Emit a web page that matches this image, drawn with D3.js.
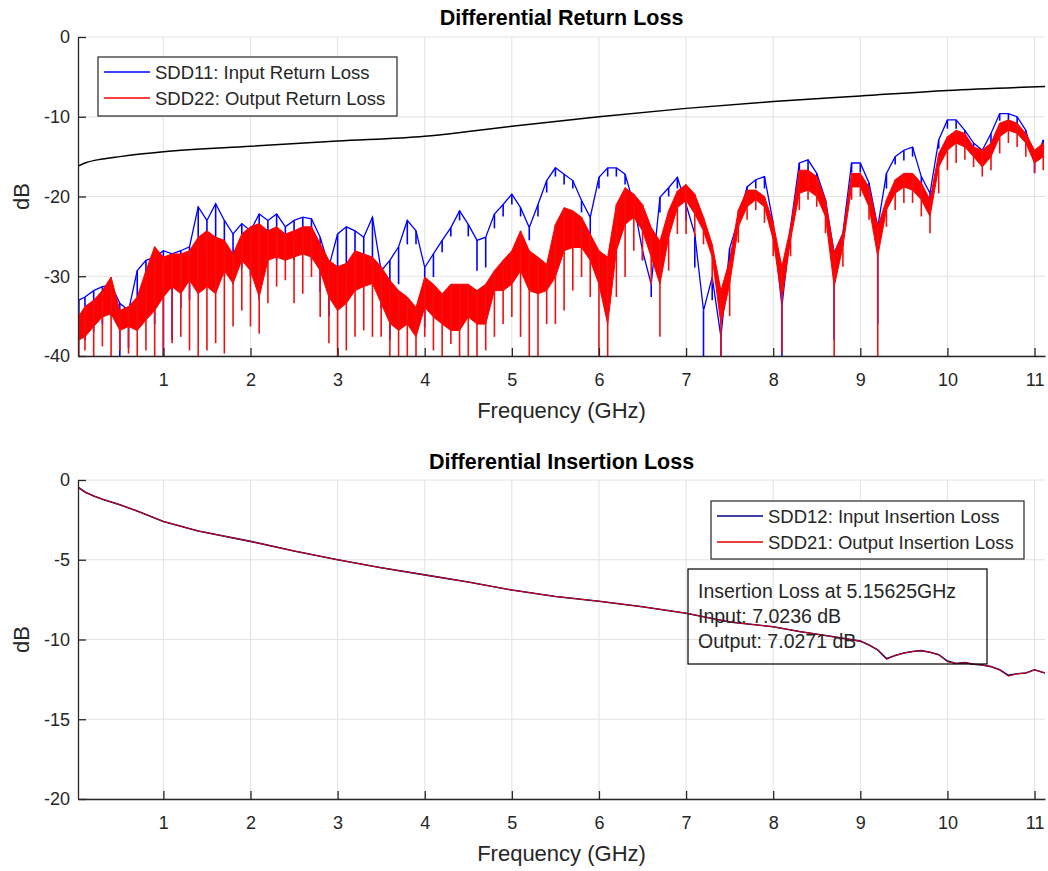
<!DOCTYPE html>
<html>
<head>
<meta charset="utf-8">
<script src="https://cdnjs.cloudflare.com/ajax/libs/d3/7.8.5/d3.min.js"></script>
<style>
body { margin: 0; background: #fff; }
svg text { font-family: "Liberation Sans", Arial, Helvetica, sans-serif; fill: #262626; }
</style>
</head>
<body>
<svg id="chart" width="1048" height="871"></svg>
<script>

// sample frequencies (GHz) for the return loss traces
var rlFreq = [0.03, 0.1, 0.2, 0.3, 0.4, 0.5, 0.6, 0.7, 0.8, 0.9, 1.0,
    1.1, 1.2, 1.3, 1.4, 1.5, 1.6, 1.7, 1.8, 1.9, 2.0,
    2.1, 2.2, 2.3, 2.4, 2.5, 2.6, 2.7, 2.8, 2.9, 3.0,
    3.1, 3.2, 3.3, 3.4, 3.5, 3.6, 3.7, 3.8, 3.9, 4.0,
    4.1, 4.2, 4.3, 4.4, 4.5, 4.6, 4.7, 4.8, 4.9, 5.0,
    5.1, 5.2, 5.3, 5.4, 5.5, 5.6, 5.7, 5.8, 5.9, 6.0,
    6.1, 6.2, 6.3, 6.4, 6.5, 6.6, 6.7, 6.8, 6.9, 7.0,
    7.1, 7.2, 7.3, 7.4, 7.5, 7.6, 7.7, 7.8, 7.9, 8.0,
    8.1, 8.2, 8.3, 8.4, 8.5, 8.6, 8.7, 8.8, 8.9, 9.0,
    9.1, 9.2, 9.3, 9.4, 9.5, 9.6, 9.7, 9.8, 9.9, 10.0,
    10.1, 10.2, 10.3, 10.4, 10.5, 10.6, 10.7, 10.8, 10.9, 11.0, 11.1];

// SDD11 (blue): upper and lower edge of the trace, dB
var sdd11Hi = [-33, -32.6, -31.8, -31.3, -31.1, -33.4, -34.3, -29.3, -28.0, -27.6, -26.8,
    -27.2, -26.8, -26.3, -21.3, -23.0, -20.9, -23.0, -24.7, -23.4, -24.3,
    -22.2, -23.0, -22.2, -23.8, -23.0, -22.6, -22.8, -25.1, -28.8, -24.7,
    -23.8, -24.3, -25.1, -22.6, -29.3, -28.0, -26.3, -23.0, -24.3, -28.9,
    -27.2, -25.5, -23.9, -21.8, -23.5, -25.5, -25.1, -22.2, -21.0, -19.7,
    -21.4, -23.9, -21.0, -18.0, -16.4, -17.2, -18.0, -20.5, -22.6, -17.6,
    -16.4, -16.4, -17.2, -21.0, -26.8, -31.0, -20.1, -18.9, -17.6, -21.0,
    -24.7, -34.3, -30.1, -37.6, -26.5, -22.9, -18.8, -17.9, -17.5, -23.3,
    -33.8, -23.8, -15.8, -15.4, -17.1, -20.4, -27.1, -24.6, -15.8, -15.8,
    -18.3, -23.8, -17.1, -15.0, -14.2, -13.8, -17.5, -19.6, -12.9, -10.4,
    -10.4, -11.7, -13.3, -14.2, -12.1, -9.6, -9.6, -10.0, -11.7, -15.8, -12.9];
var sdd11Lo = [-38, -38, -37, -36, -35, -40, -39, -36, -35, -36, -40,
    -38, -34, -33, -32, -31, -32, -30, -31, -29, -30,
    -33, -28, -28, -28, -28, -27, -28, -32, -35, -32,
    -30, -30, -29, -28, -34, -38, -31, -26, -26, -36.4,
    -30.1, -27, -25, -23, -25, -29.3, -28.9, -24, -22.5, -21,
    -22.5, -25.5, -22.5, -19.5, -17.5, -18.5, -19, -22, -25, -19,
    -17.5, -17.5, -18.5, -22, -28, -32.6, -22, -20, -19, -23,
    -28.9, -40, -33, -40, -28, -24, -20, -19, -19, -25,
    -40, -25, -17, -17, -18, -22, -38, -26, -17, -17,
    -20, -36, -19, -16, -15.5, -15, -19, -22, -14, -11.5,
    -11.5, -13, -14, -16, -13.5, -10.5, -10.5, -11, -13, -17, -14];

// SDD22 (red): top of the trace, bottom of its solid band, tips of the spikes, dB
var sdd22Top = [-35, -33.8, -33.0, -31.8, -30.1, -34.3, -33.8, -32.6, -29.3, -26.3, -27.6,
    -27.2, -27.2, -26.8, -25.1, -24.3, -25.1, -25.5, -27.2, -24.7, -23.8,
    -23.4, -24.3, -23.8, -24.7, -24.3, -23.8, -23.8, -25.9, -28.0, -28.8,
    -28.4, -26.8, -27.2, -27.6, -28.8, -30.5, -31.8, -32.6, -33.9, -30.1,
    -31.0, -32.2, -31.0, -31.0, -31.0, -31.8, -31.0, -29.3, -28.0, -26.8,
    -24.3, -26.8, -27.6, -28.5, -23.5, -21.4, -21.8, -22.6, -24.7, -26.8,
    -27.6, -21.0, -18.9, -19.7, -21.0, -23.9, -25.6, -21.8, -19.3, -18.5,
    -19.7, -22.6, -26.0, -31.8, -28.0, -21.7, -19.2, -19.2, -20.0, -23.3,
    -28.8, -23.8, -16.7, -16.7, -17.5, -20.4, -27.1, -24.6, -17.1, -17.1,
    -18.8, -23.8, -20.4, -17.9, -17.1, -17.1, -18.3, -20.4, -14.6, -12.5,
    -11.7, -12.1, -13.8, -14.2, -13.3, -10.8, -10.4, -10.8, -12.1, -14.2, -13.3];
var sdd22Band = [-38, -37.6, -36.3, -35.1, -34.7, -36.8, -36.3, -36.8, -35.5, -34.3, -32.6,
    -31.3, -32.2, -30.5, -32.2, -31.3, -32.2, -29.3, -30.9, -28.0, -29.3,
    -32.6, -28.0, -27.6, -28.0, -27.6, -27.2, -27.6, -29.3, -32.6, -34.3,
    -33.4, -31.8, -31.3, -30.9, -33.4, -35.9, -36.8, -36.0, -37.6, -33.9,
    -35.1, -36.0, -36.8, -36.8, -35.1, -36.0, -36.0, -31.8, -31.8, -31.0,
    -29.3, -31.8, -32.2, -31.8, -30.1, -26.8, -26.4, -26.4, -28.0, -31.0,
    -36.0, -26.8, -23.5, -22.6, -24.3, -27.6, -31.0, -25.1, -21.4, -20.5,
    -22.2, -24.3, -27.6, -36.0, -31.0, -23.8, -21.3, -20.4, -21.3, -25.4,
    -32.9, -25.4, -19.6, -19.2, -20.0, -22.5, -31.3, -26.3, -18.8, -18.8,
    -21.3, -27.5, -21.7, -19.6, -18.8, -19.2, -20.4, -22.5, -16.3, -14.2,
    -13.3, -13.8, -15.0, -16.3, -15.0, -12.5, -11.7, -12.1, -13.3, -15.8, -15.0];
var sdd22Spike = [-40, -39.3, -40, -38.8, -40, -39.3, -39.7, -40, -39.3, -40, -40,
    -38.4, -37.6, -39.3, -40, -39.3, -38.4, -39.7, -36.3, -34.3, -36.3,
    -37.2, -33.4, -31.3, -30.5, -33.4, -32.2, -30.1, -35.1, -38.4, -40,
    -39.3, -37.6, -36.8, -37.6, -37.6, -40, -40, -40, -40, -37.6,
    -39.3, -40, -38.5, -40, -40, -40, -39.3, -37.6, -36.0, -35.1,
    -37.6, -40, -40, -36.0, -36.0, -34.3, -31.8, -30.1, -32.6, -40,
    -40, -32.6, -30.1, -26.8, -28.0, -31.0, -37.6, -29.3, -24.7, -24.7,
    -25.1, -26.0, -31.0, -40, -35.0, -25.8, -22.9, -21.7, -23.3, -27.5,
    -39.6, -27.5, -21.7, -20.4, -21.3, -24.6, -40, -28.8, -20.4, -20.0,
    -22.9, -40, -23.8, -21.7, -20.8, -20.8, -22.5, -24.6, -19.6, -16.7,
    -15.8, -15.4, -16.3, -17.5, -16.7, -14.6, -13.3, -13.8, -15.0, -17.1, -16.7];

// return loss limit line
var limitFreq = [0.02, 0.1, 0.3, 0.5, 1, 2, 3, 4, 4.5, 5, 6, 7, 8, 9, 10, 11.12];
var limitDb = [-16.2, -15.8, -15.3, -15.0, -14.4, -13.7, -13.05, -12.45, -11.85, -11.2, -10.0, -8.95, -8.1, -7.4, -6.7, -6.2];

// insertion loss
var ilFreq = [0.02, 0.1, 0.2, 0.3, 0.5, 0.7, 1.0, 1.4, 2.0, 2.5, 3.0, 3.5, 4.0, 4.5, 5.0, 5.5,
    6.0, 6.5, 7.0, 7.5, 8.0, 8.3, 8.6, 9.0, 9.1, 9.2, 9.3, 9.4, 9.5, 9.6, 9.7, 9.8,
    9.9, 10.0, 10.1, 10.2, 10.3, 10.4, 10.5, 10.6, 10.7, 10.8, 10.9, 11.0, 11.12];
var sdd21 = [-0.45, -0.75, -1.0, -1.2, -1.55, -1.95, -2.6, -3.2, -3.85, -4.45, -5.0, -5.5, -5.95, -6.4, -6.9, -7.3,
    -7.6, -7.95, -8.35, -8.9, -9.2, -9.5, -9.75, -10.1, -10.35, -10.65, -11.25, -11.0, -10.85, -10.75, -10.7, -10.8,
    -10.95, -11.4, -11.5, -11.45, -11.55, -11.6, -11.7, -11.9, -12.3, -12.15, -12.1, -11.9, -12.1];
var sdd12 = [-0.45, -0.75, -1.0, -1.2, -1.55, -1.95, -2.6, -3.2, -3.85, -4.45, -5.0, -5.5, -5.95, -6.4, -6.9, -7.3,
    -7.6, -7.95, -8.35, -8.9, -9.2, -9.5, -9.75, -10.1, -10.35, -10.65, -11.2, -11.0, -10.85, -10.75, -10.7, -10.8,
    -10.95, -11.35, -11.5, -11.45, -11.55, -11.6, -11.7, -11.9, -12.25, -12.15, -12.1, -11.9, -12.1];

var xTicks = [1, 2, 3, 4, 5, 6, 7, 8, 9, 10, 11];
var rlTicks = [0, -10, -20, -30, -40];
var ilTicks = [0, -5, -10, -15, -20];

var axisColor = "#262626",
    gridColor = "#e2e2e2";

var left = 78, right = 1045;

var svg = d3.select("svg#chart");

var x = d3.scaleLinear()
          .domain([0.02, 11.12])
          .range([left, right]);

var yTop = d3.scaleLinear()
             .domain([-40, 0])
             .range([356, 37]);

var yBot = d3.scaleLinear()
             .domain([-20, 0])
             .range([799, 480]);

// grid + title + labels for one panel
function drawFrame(y, ticks, title, titleY, id) {
    var top = y.range()[1], bottom = y.range()[0];

    var g = svg.append("g");

    // grid
    g.append("g")
     .selectAll("line")
     .data(xTicks)
     .enter().append("line")
     .attr("x1", function(d){ return x(d); })
     .attr("x2", function(d){ return x(d); })
     .attr("y1", top).attr("y2", bottom)
     .attr("stroke", gridColor);
    g.append("g")
     .selectAll("line")
     .data(ticks)
     .enter().append("line")
     .attr("x1", left).attr("x2", right)
     .attr("y1", function(d){ return y(d); })
     .attr("y2", function(d){ return y(d); })
     .attr("stroke", gridColor);

    svg.append("clipPath")
       .attr("id", id)
       .append("rect")
       .attr("x", left).attr("y", top)
       .attr("width", right - left).attr("height", bottom - top);

    // title
    svg.append("text")
       .attr("x", (left + right) / 2)
       .attr("y", titleY)
       .style("text-anchor", "middle")
       .style("font-size", "21.5px")
       .style("font-weight", "bold")
       .style("fill", "#000")
       .text(title);

    // x label
    svg.append("text")
       .attr("x", (left + right) / 2)
       .attr("y", bottom + 62)
       .style("text-anchor", "middle")
       .style("font-size", "22px")
       .text("Frequency (GHz)");

    // y label
    svg.append("text")
       .attr("transform", "translate(29," + ((top + bottom) / 2) + ") rotate(-90)")
       .style("text-anchor", "middle")
       .style("font-size", "22px")
       .text("dB");
}

function drawAxes(y, ticks) {
    var bottom = y.range()[0];
    var fmt = function(d){ return String(d); };   // plain hyphen minus like the original

    var ax = svg.append("g")
       .attr("transform", "translate(0," + bottom + ")")
       .call(d3.axisBottom(x).tickValues(xTicks).tickFormat(fmt).tickSize(-8).tickSizeOuter(0).tickPadding(17));
    var ay = svg.append("g")
       .attr("transform", "translate(" + left + ",0)")
       .call(d3.axisLeft(y).tickValues(ticks).tickFormat(fmt).tickSize(-8).tickSizeOuter(0).tickPadding(8));

    [ax, ay].forEach(function(a){
        a.select(".domain").attr("stroke", axisColor).attr("stroke-width", 1.3);
        a.selectAll(".tick line").attr("stroke", axisColor).attr("stroke-width", 1.3);
        a.selectAll(".tick text")
         .style("font-size", "18px")
         .style("font-family", "'Liberation Sans', Arial, sans-serif")
         .attr("fill", axisColor);
    });
}

drawFrame(yTop, rlTicks, "Differential Return Loss", 25, "clipTop");
drawFrame(yBot, ilTicks, "Differential Insertion Loss", 469, "clipBot");

// ---- return loss traces
var idx = d3.range(rlFreq.length);

var traces = svg.append("g").attr("clip-path", "url(#clipTop)");

// SDD11: upper edge line plus a vertical stroke down to the lower edge at every sample
traces.append("path")
      .datum(idx)
      .attr("d", d3.line()
          .x(function(i){ return x(rlFreq[i]); })
          .y(function(i){ return yTop(sdd11Hi[i]); }))
      .attr("fill", "none")
      .attr("stroke", "#0000ff")
      .attr("stroke-width", 1.3);

traces.append("g")
      .selectAll("line")
      .data(idx)
      .enter().append("line")
      .attr("x1", function(i){ return x(rlFreq[i]); })
      .attr("x2", function(i){ return x(rlFreq[i]); })
      .attr("y1", function(i){ return yTop(sdd11Hi[i]); })
      .attr("y2", function(i){ return yTop(sdd11Lo[i]); })
      .attr("stroke", "#0000ff")
      .attr("stroke-width", 1.6);

// SDD22: solid band plus spikes
traces.append("path")
      .datum(idx)
      .attr("d", d3.area()
          .x(function(i){ return x(rlFreq[i]); })
          .y0(function(i){ return yTop(sdd22Band[i]); })
          .y1(function(i){ return yTop(sdd22Top[i]); }))
      .attr("fill", "#ff0000")
      .attr("stroke", "#ff0000")
      .attr("stroke-width", 1);

traces.append("g")
      .selectAll("line")
      .data(idx)
      .enter().append("line")
      .attr("x1", function(i){ return x(rlFreq[i]); })
      .attr("x2", function(i){ return x(rlFreq[i]); })
      .attr("y1", function(i){ return yTop(sdd22Top[i]); })
      .attr("y2", function(i){ return yTop(sdd22Spike[i]); })
      .attr("stroke", "#ee1111")
      .attr("stroke-width", 1.6);

traces.append("path")
      .datum(d3.range(limitFreq.length))
      .attr("d", d3.line()
          .curve(d3.curveMonotoneX)
          .x(function(i){ return x(limitFreq[i]); })
          .y(function(i){ return yTop(limitDb[i]); }))
      .attr("fill", "none")
      .attr("stroke", "#000")
      .attr("stroke-width", 1.5);

// ---- insertion loss traces
var ilIdx = d3.range(ilFreq.length);
var ilLine = function(vals){
    return d3.line()
             .x(function(i){ return x(ilFreq[i]); })
             .y(function(i){ return yBot(vals[i]); })(ilIdx);
};

var ilg = svg.append("g").attr("clip-path", "url(#clipBot)");
ilg.append("path")
   .attr("d", ilLine(sdd12))
   .attr("fill", "none")
   .attr("stroke", "#00007f")
   .attr("stroke-width", 1.6);
ilg.append("path")
   .attr("d", ilLine(sdd21))
   .attr("fill", "none")
   .attr("stroke", "#e00000")
   .attr("stroke-width", 1);

drawAxes(yTop, rlTicks);
drawAxes(yBot, ilTicks);

// ---- legends
function legend(bx, by, bw, bh, items) {
    var g = svg.append("g");
    g.append("rect")
     .attr("x", bx).attr("y", by)
     .attr("width", bw).attr("height", bh)
     .attr("fill", "#fff")
     .attr("stroke", axisColor)
     .attr("stroke-width", 1.2);
    items.forEach(function(it, i){
        var ly = Math.round(by + 15 + i * 25.5);
        g.append("line")
         .attr("x1", bx + 6).attr("x2", bx + 52)
         .attr("y1", ly).attr("y2", ly)
         .attr("stroke", it.color)
         .attr("stroke-width", 1.4);
        g.append("text")
         .attr("x", bx + 57)
         .attr("y", ly + 6.5)
         .style("font-size", "18.5px")
         .text(it.label);
    });
}

legend(98, 57, 299, 59, [
    {label: "SDD11: Input Return Loss", color: "#0000ff"},
    {label: "SDD22: Output Return Loss", color: "#ff0000"}
]);

legend(711, 501, 313, 58, [
    {label: "SDD12: Input Insertion Loss", color: "#00007f"},
    {label: "SDD21: Output Insertion Loss", color: "#e00000"}
]);

// ---- annotation box
var noteLines = ["Insertion Loss at 5.15625GHz", "Input: 7.0236 dB", "Output: 7.0271 dB"];

svg.append("rect")
   .attr("x", 688).attr("y", 569)
   .attr("width", 299).attr("height", 95)
   .attr("fill", "none")
   .attr("stroke", "#000")
   .attr("stroke-width", 1.2);

svg.selectAll("text.note")
   .data(noteLines)
   .enter().append("text")
   .attr("class", "note")
   .attr("x", 698)
   .attr("y", function(d, i){ return 598 + i * 25; })
   .style("font-size", "19.5px")
   .text(function(d){ return d; });

</script>
</body>
</html>
